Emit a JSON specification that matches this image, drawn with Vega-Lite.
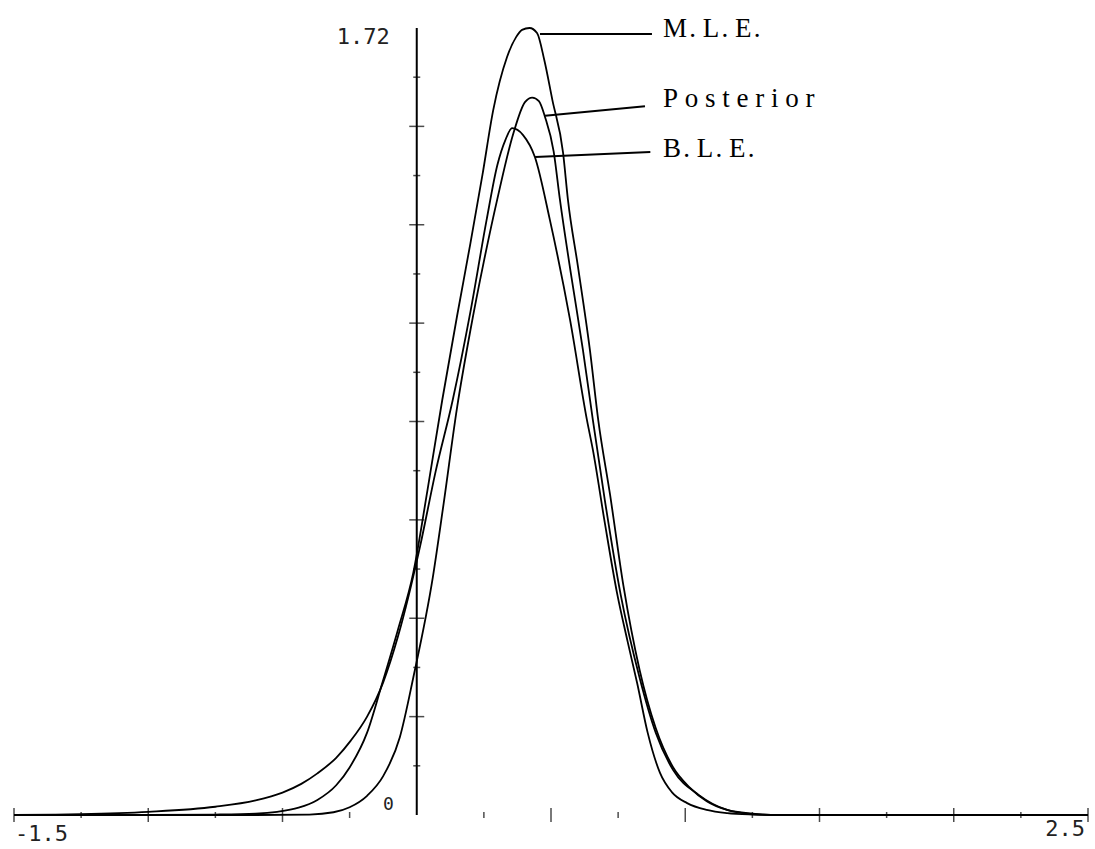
{
  "$schema": "https://vega.github.io/schema/vega-lite/v6.json",
  "autosize": {"type": "none"},
  "padding": {"left": 14, "top": 28, "right": 7, "bottom": 34},
  "width": 1074,
  "height": 787,
  "background": "white",
  "config": {"view": {"stroke": null}},
  "datasets": {
    "curves": [
      {"series": "M.L.E.", "x": -1.5, "y": 0}, {"series": "M.L.E.", "x": -1.0, "y": 0}, {"series": "M.L.E.", "x": -0.75, "y": 0.001},
      {"series": "M.L.E.", "x": -0.6, "y": 0.003}, {"series": "M.L.E.", "x": -0.52, "y": 0.007}, {"series": "M.L.E.", "x": -0.44, "y": 0.016},
      {"series": "M.L.E.", "x": -0.37, "y": 0.033}, {"series": "M.L.E.", "x": -0.3, "y": 0.065}, {"series": "M.L.E.", "x": -0.25, "y": 0.104},
      {"series": "M.L.E.", "x": -0.185, "y": 0.18}, {"series": "M.L.E.", "x": -0.13, "y": 0.285}, {"series": "M.L.E.", "x": -0.07, "y": 0.405},
      {"series": "M.L.E.", "x": -0.013, "y": 0.529}, {"series": "M.L.E.", "x": 0.04, "y": 0.71}, {"series": "M.L.E.", "x": 0.095, "y": 0.907},
      {"series": "M.L.E.", "x": 0.15, "y": 1.09}, {"series": "M.L.E.", "x": 0.2, "y": 1.25}, {"series": "M.L.E.", "x": 0.245, "y": 1.4},
      {"series": "M.L.E.", "x": 0.285, "y": 1.541}, {"series": "M.L.E.", "x": 0.336, "y": 1.656}, {"series": "M.L.E.", "x": 0.37, "y": 1.7},
      {"series": "M.L.E.", "x": 0.392, "y": 1.716}, {"series": "M.L.E.", "x": 0.42, "y": 1.72}, {"series": "M.L.E.", "x": 0.448, "y": 1.709},
      {"series": "M.L.E.", "x": 0.475, "y": 1.65}, {"series": "M.L.E.", "x": 0.505, "y": 1.563}, {"series": "M.L.E.", "x": 0.545, "y": 1.447},
      {"series": "M.L.E.", "x": 0.563, "y": 1.345}, {"series": "M.L.E.", "x": 0.6, "y": 1.2}, {"series": "M.L.E.", "x": 0.645, "y": 1.016},
      {"series": "M.L.E.", "x": 0.676, "y": 0.863}, {"series": "M.L.E.", "x": 0.72, "y": 0.7}, {"series": "M.L.E.", "x": 0.77, "y": 0.5},
      {"series": "M.L.E.", "x": 0.83, "y": 0.317}, {"series": "M.L.E.", "x": 0.89, "y": 0.19}, {"series": "M.L.E.", "x": 0.954, "y": 0.105},
      {"series": "M.L.E.", "x": 1.017, "y": 0.06}, {"series": "M.L.E.", "x": 1.08, "y": 0.03}, {"series": "M.L.E.", "x": 1.156, "y": 0.011},
      {"series": "M.L.E.", "x": 1.25, "y": 0.003}, {"series": "M.L.E.", "x": 1.35, "y": 0}, {"series": "M.L.E.", "x": 2.5, "y": 0},

      {"series": "Posterior", "x": -1.5, "y": 0}, {"series": "Posterior", "x": -0.6, "y": 0}, {"series": "Posterior", "x": -0.4, "y": 0.001},
      {"series": "Posterior", "x": -0.31, "y": 0.006}, {"series": "Posterior", "x": -0.25, "y": 0.017}, {"series": "Posterior", "x": -0.185, "y": 0.042},
      {"series": "Posterior", "x": -0.125, "y": 0.085}, {"series": "Posterior", "x": -0.063, "y": 0.17}, {"series": "Posterior", "x": -0.013, "y": 0.3},
      {"series": "Posterior", "x": 0.06, "y": 0.52}, {"series": "Posterior", "x": 0.1, "y": 0.68}, {"series": "Posterior", "x": 0.15, "y": 0.89},
      {"series": "Posterior", "x": 0.2, "y": 1.06}, {"series": "Posterior", "x": 0.25, "y": 1.21}, {"series": "Posterior", "x": 0.3, "y": 1.346},
      {"series": "Posterior", "x": 0.36, "y": 1.49}, {"series": "Posterior", "x": 0.403, "y": 1.558}, {"series": "Posterior", "x": 0.43, "y": 1.568},
      {"series": "Posterior", "x": 0.455, "y": 1.56}, {"series": "Posterior", "x": 0.478, "y": 1.525}, {"series": "Posterior", "x": 0.51, "y": 1.45},
      {"series": "Posterior", "x": 0.533, "y": 1.346}, {"series": "Posterior", "x": 0.575, "y": 1.18}, {"series": "Posterior", "x": 0.619, "y": 1.016},
      {"series": "Posterior", "x": 0.656, "y": 0.863}, {"series": "Posterior", "x": 0.7, "y": 0.69}, {"series": "Posterior", "x": 0.76, "y": 0.48},
      {"series": "Posterior", "x": 0.83, "y": 0.3}, {"series": "Posterior", "x": 0.89, "y": 0.18}, {"series": "Posterior", "x": 0.955, "y": 0.098},
      {"series": "Posterior", "x": 1.05, "y": 0.044}, {"series": "Posterior", "x": 1.156, "y": 0.011}, {"series": "Posterior", "x": 1.25, "y": 0.002},
      {"series": "Posterior", "x": 1.35, "y": 0}, {"series": "Posterior", "x": 2.5, "y": 0},

      {"series": "B.L.E.", "x": -1.5, "y": 0}, {"series": "B.L.E.", "x": -1.35, "y": 0.001}, {"series": "B.L.E.", "x": -1.25, "y": 0.002},
      {"series": "B.L.E.", "x": -1.0, "y": 0.007}, {"series": "B.L.E.", "x": -0.75, "y": 0.018}, {"series": "B.L.E.", "x": -0.6, "y": 0.032},
      {"series": "B.L.E.", "x": -0.5, "y": 0.049}, {"series": "B.L.E.", "x": -0.43, "y": 0.068}, {"series": "B.L.E.", "x": -0.37, "y": 0.091},
      {"series": "B.L.E.", "x": -0.3, "y": 0.125}, {"series": "B.L.E.", "x": -0.245, "y": 0.163}, {"series": "B.L.E.", "x": -0.185, "y": 0.215},
      {"series": "B.L.E.", "x": -0.125, "y": 0.29}, {"series": "B.L.E.", "x": -0.07, "y": 0.39}, {"series": "B.L.E.", "x": 0.012, "y": 0.586},
      {"series": "B.L.E.", "x": 0.07, "y": 0.75}, {"series": "B.L.E.", "x": 0.134, "y": 0.907}, {"series": "B.L.E.", "x": 0.2, "y": 1.1},
      {"series": "B.L.E.", "x": 0.26, "y": 1.3}, {"series": "B.L.E.", "x": 0.3, "y": 1.42}, {"series": "B.L.E.", "x": 0.33, "y": 1.475},
      {"series": "B.L.E.", "x": 0.355, "y": 1.501}, {"series": "B.L.E.", "x": 0.396, "y": 1.486}, {"series": "B.L.E.", "x": 0.44, "y": 1.438},
      {"series": "B.L.E.", "x": 0.496, "y": 1.3}, {"series": "B.L.E.", "x": 0.571, "y": 1.082}, {"series": "B.L.E.", "x": 0.634, "y": 0.863},
      {"series": "B.L.E.", "x": 0.656, "y": 0.798}, {"series": "B.L.E.", "x": 0.7, "y": 0.64}, {"series": "B.L.E.", "x": 0.746, "y": 0.485},
      {"series": "B.L.E.", "x": 0.785, "y": 0.38}, {"series": "B.L.E.", "x": 0.821, "y": 0.288}, {"series": "B.L.E.", "x": 0.86, "y": 0.18},
      {"series": "B.L.E.", "x": 0.906, "y": 0.092}, {"series": "B.L.E.", "x": 0.95, "y": 0.05}, {"series": "B.L.E.", "x": 1.007, "y": 0.026},
      {"series": "B.L.E.", "x": 1.08, "y": 0.011}, {"series": "B.L.E.", "x": 1.156, "y": 0.004}, {"series": "B.L.E.", "x": 1.25, "y": 0.001},
      {"series": "B.L.E.", "x": 1.35, "y": 0}, {"series": "B.L.E.", "x": 2.5, "y": 0}
    ],
    "xMajor": [{"v": -1.5}, {"v": -1.0}, {"v": -0.5}, {"v": 0.5}, {"v": 1.0}, {"v": 1.5}, {"v": 2.0}, {"v": 2.5}],
    "xMinor": [{"v": -1.25}, {"v": -0.75}, {"v": -0.25}, {"v": 0.25}, {"v": 0.75}, {"v": 1.25}, {"v": 1.75}, {"v": 2.25}],
    "yMajor": [{"v": 0.215}, {"v": 0.43}, {"v": 0.645}, {"v": 0.86}, {"v": 1.075}, {"v": 1.29}, {"v": 1.505}],
    "yMinor": [{"v": 0.1075}, {"v": 0.3225}, {"v": 0.5375}, {"v": 0.7525}, {"v": 0.9675}, {"v": 1.1825}, {"v": 1.3975}, {"v": 1.6125}],
    "yAxisLine": [{"x": 0, "y": 0, "y2": 1.72}],
    "axisLabels": [
      {"text": "-1.5", "x": -1.5, "y": 0, "pos": "left"},
      {"text": "2.5", "x": 2.5, "y": 0, "pos": "right"}
    ],
    "yLabels": [
      {"text": "1.72", "x": 0, "y": 1.72}
    ],
    "zeroLabel": [
      {"text": "0", "x": 0, "y": 0}
    ],
    "leaders": [
      {"series": "M.L.E.", "x": 0.459, "x2": 0.876, "y": 1.707, "y2": 1.707},
      {"series": "Posterior", "x": 0.478, "x2": 0.85, "y": 1.528, "y2": 1.549},
      {"series": "B.L.E.", "x": 0.441, "x2": 0.87, "y": 1.438, "y2": 1.449}
    ],
    "labels": [
      {"text": "M\u200a.\u2005L\u200a.\u2005E\u200a.", "x": 0.917, "y": 1.7},
      {"text": "P\u2005o\u2005s\u2005t\u2005e\u2005r\u2005i\u2005o\u2005r", "x": 0.917, "y": 1.547},
      {"text": "B\u200a.\u2005L\u200a.\u2005E\u200a.", "x": 0.917, "y": 1.438}
    ]
  },
  "layer": [
    {
      "data": {"name": "curves"},
      "mark": {"type": "line", "color": "black", "strokeWidth": 1.8, "interpolate": "monotone"},
      "encoding": {
        "x": {
          "field": "x", "type": "quantitative",
          "scale": {"domain": [-1.5, 2.5], "nice": false, "zero": false},
          "axis": {
            "title": null, "values": [-1.5, 2.5], "grid": false, "ticks": false, "labels": false,
            "domain": true, "domainColor": "black", "domainWidth": 2
          }
        },
        "y": {
          "field": "y", "type": "quantitative",
          "scale": {"domain": [0, 1.72], "nice": false, "zero": true},
          "axis": null
        },
        "detail": {"field": "series"}
      }
    },
    {
      "data": {"name": "yAxisLine"},
      "mark": {"type": "rule", "color": "black", "strokeWidth": 2},
      "encoding": {
        "x": {"field": "x", "type": "quantitative", "axis": null},
        "y": {"field": "y", "type": "quantitative", "axis": null},
        "y2": {"field": "y2"}
      }
    },
    {
      "data": {"name": "xMajor"},
      "mark": {"type": "tick", "orient": "vertical", "color": "black", "size": 14, "thickness": 1.5},
      "encoding": {
        "x": {"field": "v", "type": "quantitative", "axis": null},
        "y": {"datum": 0, "type": "quantitative", "axis": null}
      }
    },
    {
      "data": {"name": "xMinor"},
      "mark": {"type": "tick", "orient": "vertical", "color": "black", "size": 6, "thickness": 1.5},
      "encoding": {
        "x": {"field": "v", "type": "quantitative", "axis": null},
        "y": {"datum": 0, "type": "quantitative", "axis": null}
      }
    },
    {
      "data": {"name": "yMajor"},
      "mark": {"type": "tick", "orient": "horizontal", "color": "black", "size": 15, "thickness": 1.5},
      "encoding": {
        "y": {"field": "v", "type": "quantitative", "axis": null},
        "x": {"datum": 0, "type": "quantitative", "axis": null}
      }
    },
    {
      "data": {"name": "yMinor"},
      "mark": {"type": "tick", "orient": "horizontal", "color": "black", "size": 7, "thickness": 1.5},
      "encoding": {
        "y": {"field": "v", "type": "quantitative", "axis": null},
        "x": {"datum": 0, "type": "quantitative", "axis": null}
      }
    },
    {
      "data": {"name": "leaders"},
      "mark": {"type": "rule", "color": "black", "strokeWidth": 2},
      "encoding": {
        "x": {"field": "x", "type": "quantitative", "axis": null},
        "x2": {"field": "x2"},
        "y": {"field": "y", "type": "quantitative", "axis": null},
        "y2": {"field": "y2"}
      }
    },
    {
      "data": {"name": "labels"},
      "mark": {"type": "text", "align": "left", "baseline": "alphabetic", "font": "Liberation Serif", "fontSize": 27, "color": "black"},
      "encoding": {
        "x": {"field": "x", "type": "quantitative", "axis": null},
        "y": {"field": "y", "type": "quantitative", "axis": null},
        "text": {"field": "text"}
      }
    },
    {
      "data": {"name": "axisLabels"},
      "transform": [{"filter": "datum.pos == 'left'"}],
      "mark": {"type": "text", "align": "left", "baseline": "top", "dx": 1, "dy": 9, "font": "DejaVu Sans Mono", "fontSize": 22, "color": "#222"},
      "encoding": {
        "x": {"field": "x", "type": "quantitative", "axis": null},
        "y": {"field": "y", "type": "quantitative", "axis": null},
        "text": {"field": "text"}
      }
    },
    {
      "data": {"name": "axisLabels"},
      "transform": [{"filter": "datum.pos == 'right'"}],
      "mark": {"type": "text", "align": "right", "baseline": "top", "dx": -3, "dy": 4, "font": "DejaVu Sans Mono", "fontSize": 22, "color": "#222"},
      "encoding": {
        "x": {"field": "x", "type": "quantitative", "axis": null},
        "y": {"field": "y", "type": "quantitative", "axis": null},
        "text": {"field": "text"}
      }
    },
    {
      "data": {"name": "yLabels"},
      "mark": {"type": "text", "align": "right", "baseline": "middle", "dx": -27, "dy": 9, "font": "DejaVu Sans Mono", "fontSize": 22, "color": "#222"},
      "encoding": {
        "x": {"field": "x", "type": "quantitative", "axis": null},
        "y": {"field": "y", "type": "quantitative", "axis": null},
        "text": {"field": "text"}
      }
    },
    {
      "data": {"name": "zeroLabel"},
      "mark": {"type": "text", "align": "right", "baseline": "bottom", "dx": -23, "dy": -1, "font": "DejaVu Sans Mono", "fontSize": 18, "color": "#222"},
      "encoding": {
        "x": {"field": "x", "type": "quantitative", "axis": null},
        "y": {"field": "y", "type": "quantitative", "axis": null},
        "text": {"field": "text"}
      }
    }
  ]
}
